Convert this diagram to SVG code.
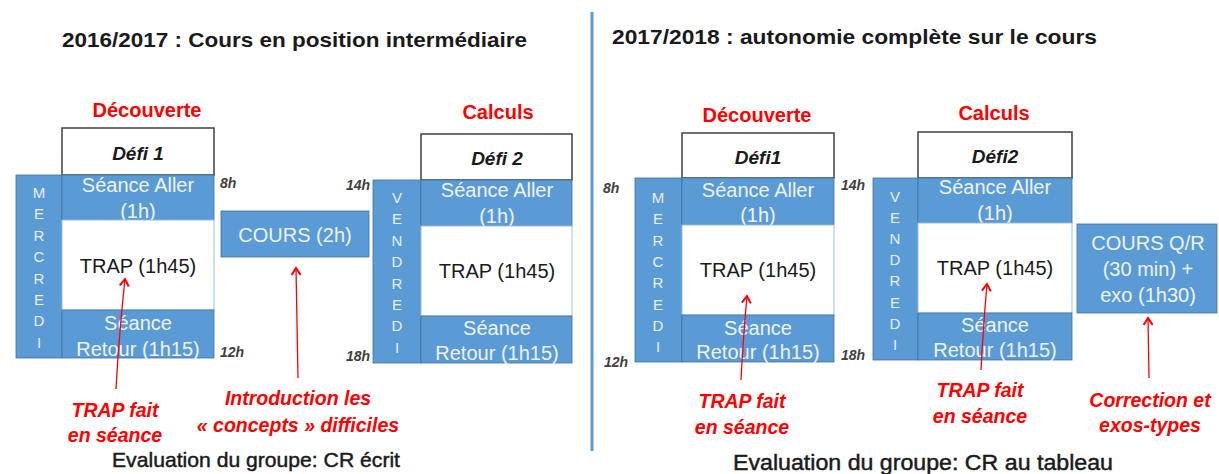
<svg xmlns="http://www.w3.org/2000/svg" width="1219" height="474" viewBox="0 0 1219 474">
<defs>
<style>
text{font-family:"Liberation Sans",Arial,sans-serif}
.blue{fill:#5b9bd5;stroke:#41719c;stroke-width:0.8}
.white{fill:#fff;stroke:#9dc3e6;stroke-width:1}
.defi{fill:#fff;stroke:#404040;stroke-width:1.5}
.wt{fill:#eef3fa;font-size:20px;text-anchor:middle}
.dt{fill:#1a1a1a;font-size:20px;text-anchor:middle}
.dfi{fill:#1a1a1a;font-size:19px;font-weight:bold;font-style:italic;text-anchor:middle}
.day{fill:#e8f0f9;font-size:15px;text-anchor:middle}
.hr{fill:#404040;font-size:14px;font-style:italic;font-weight:bold}
.red{fill:#ff0000;font-weight:bold;font-size:20px;text-anchor:middle}
.ann{fill:#ff0000;font-weight:bold;font-style:italic;font-size:19.5px;text-anchor:middle}
.title{fill:#1a1a1a;font-weight:bold;font-size:21px}
.eval{fill:#1a1a1a;stroke:#1a1a1a;stroke-width:0.45;font-size:21px;text-anchor:middle}
.arr{fill:none;stroke:#ff0000;stroke-width:1.3;marker-end:url(#head)}
</style>
<marker id="head" markerUnits="userSpaceOnUse" markerWidth="12" markerHeight="12" viewBox="0 0 12 12" refX="10" refY="6" orient="auto">
<path d="M3,1.5 L10,6 L3,10.5" fill="none" stroke="#ff0000" stroke-width="2"/>
</marker>
</defs>
<rect width="1219" height="474" fill="#fff"/>

<g id="titles">
<text class="title" x="62" y="47" textLength="465" lengthAdjust="spacingAndGlyphs">2016/2017 : Cours en position intermédiaire</text>
<text class="title" x="612" y="44" textLength="485" lengthAdjust="spacingAndGlyphs">2017/2018 : autonomie complète sur le cours</text>
</g>
<line id="divider" x1="592" y1="12" x2="592" y2="451" stroke="#5b9bd5" stroke-width="3"/>

<!-- LEFT -->
<g id="defi1-left">
<text class="red" x="147" y="117">Découverte</text>
<rect class="defi" x="62" y="128" width="152" height="47"/>
<text class="dfi" x="138" y="160">Défi 1</text>
</g>
<g id="mercredi-left">
<rect class="blue" x="16" y="175" width="46" height="183"/>
<text class="day"><tspan x="39" y="198">M</tspan><tspan x="39" y="219.4">E</tspan><tspan x="39" y="240.8">R</tspan><tspan x="39" y="262.2">C</tspan><tspan x="39" y="283.6">R</tspan><tspan x="39" y="305">E</tspan><tspan x="39" y="326.4">D</tspan><tspan x="39" y="347.8">I</tspan></text>
</g>
<g id="aller-left1">
<rect class="blue" x="62" y="175" width="152" height="45"/>
<text class="wt" x="138" y="192">Séance Aller</text>
<text class="wt" x="138" y="218">(1h)</text>
</g>
<g id="trap-left1">
<rect class="white" x="62" y="220" width="152" height="90"/>
<text class="dt" x="138" y="273">TRAP (1h45)</text>
</g>
<g id="retour-left1">
<rect class="blue" x="62" y="310" width="152" height="48"/>
<text class="wt" x="138" y="330">Séance</text>
<text class="wt" x="138" y="356">Retour (1h15)</text>
</g>
<g id="hours-left">
<text class="hr" x="220" y="188">8h</text>
<text class="hr" x="220" y="357">12h</text>
<text class="hr" x="370" y="190" text-anchor="end">14h</text>
<text class="hr" x="370" y="361" text-anchor="end">18h</text>
</g>
<g id="cours-left">
<rect class="blue" x="221" y="211" width="148" height="46"/>
<text class="wt" x="295" y="242">COURS (2h)</text>
</g>
<g id="defi2-left">
<text class="red" x="498" y="119">Calculs</text>
<rect class="defi" x="421" y="134" width="151" height="46"/>
<text class="dfi" x="497" y="165">Défi 2</text>
</g>
<g id="vendredi-left">
<rect class="blue" x="373" y="180" width="48" height="183"/>
<text class="day"><tspan x="397" y="203">V</tspan><tspan x="397" y="224.4">E</tspan><tspan x="397" y="245.8">N</tspan><tspan x="397" y="267.2">D</tspan><tspan x="397" y="288.6">R</tspan><tspan x="397" y="310">E</tspan><tspan x="397" y="331.4">D</tspan><tspan x="397" y="352.8">I</tspan></text>
</g>
<g id="aller-left2">
<rect class="blue" x="421" y="180" width="151" height="46"/>
<text class="wt" x="497" y="197">Séance Aller</text>
<text class="wt" x="497" y="223">(1h)</text>
</g>
<g id="trap-left2">
<rect class="white" x="421" y="226" width="151" height="90"/>
<text class="dt" x="497" y="278">TRAP (1h45)</text>
</g>
<g id="retour-left2">
<rect class="blue" x="421" y="316" width="151" height="47"/>
<text class="wt" x="497" y="335">Séance</text>
<text class="wt" x="497" y="360">Retour (1h15)</text>
</g>

<!-- RIGHT -->
<g id="defi1-right">
<text class="red" x="757" y="122">Découverte</text>
<rect class="defi" x="682" y="133" width="152" height="45"/>
<text class="dfi" x="758" y="164">Défi1</text>
</g>
<g id="mercredi-right">
<rect class="blue" x="635" y="178" width="47" height="184"/>
<text class="day"><tspan x="658" y="203">M</tspan><tspan x="658" y="224.3">E</tspan><tspan x="658" y="245.6">R</tspan><tspan x="658" y="266.9">C</tspan><tspan x="658" y="288.2">R</tspan><tspan x="658" y="309.5">E</tspan><tspan x="658" y="330.8">D</tspan><tspan x="658" y="352.1">I</tspan></text>
</g>
<g id="aller-right1">
<rect class="blue" x="682" y="178" width="152" height="47"/>
<text class="wt" x="758" y="197">Séance Aller</text>
<text class="wt" x="758" y="222">(1h)</text>
</g>
<g id="trap-right1">
<rect class="white" x="682" y="225" width="152" height="90"/>
<text class="dt" x="758" y="277">TRAP (1h45)</text>
</g>
<g id="retour-right1">
<rect class="blue" x="682" y="315" width="152" height="47"/>
<text class="wt" x="758" y="335">Séance</text>
<text class="wt" x="758" y="359">Retour (1h15)</text>
</g>
<g id="hours-right">
<text class="hr" x="603" y="193">8h</text>
<text class="hr" x="604" y="367">12h</text>
<text class="hr" x="841" y="190">14h</text>
<text class="hr" x="841" y="360">18h</text>
</g>
<g id="defi2-right">
<text class="red" x="994" y="120">Calculs</text>
<rect class="defi" x="918" y="132" width="154" height="46"/>
<text class="dfi" x="995" y="163">Défi2</text>
</g>
<g id="vendredi-right">
<rect class="blue" x="873" y="178" width="45" height="182"/>
<text class="day"><tspan x="895" y="202">V</tspan><tspan x="895" y="223.1">E</tspan><tspan x="895" y="244.2">N</tspan><tspan x="895" y="265.3">D</tspan><tspan x="895" y="286.4">R</tspan><tspan x="895" y="307.5">E</tspan><tspan x="895" y="328.6">D</tspan><tspan x="895" y="349.7">I</tspan></text>
</g>
<g id="aller-right2">
<rect class="blue" x="918" y="178" width="154" height="45"/>
<text class="wt" x="995" y="194">Séance Aller</text>
<text class="wt" x="995" y="220">(1h)</text>
</g>
<g id="trap-right2">
<rect class="white" x="918" y="223" width="154" height="90"/>
<text class="dt" x="995" y="275">TRAP (1h45)</text>
</g>
<g id="retour-right2">
<rect class="blue" x="918" y="313" width="154" height="47"/>
<text class="wt" x="995" y="332">Séance</text>
<text class="wt" x="995" y="357">Retour (1h15)</text>
</g>
<g id="cours-right">
<rect class="blue" x="1077" y="224" width="140" height="89"/>
<text class="wt" x="1148" y="250">COURS Q/R</text>
<text class="wt" x="1148" y="276">(30 min) +</text>
<text class="wt" x="1148" y="302">exo (1h30)</text>
</g>

<g id="connectors">
<path class="arr" d="M116,389 Q119,335 125,279"/>
<path class="arr" d="M298,378 L296,268"/>
<path class="arr" d="M741,380 Q743,340 747,296"/>
<path class="arr" d="M981,370 Q983,330 987,284"/>
<path class="arr" d="M1149,378 L1148,318"/>
</g>

<g id="annotations">
<text class="ann" x="115" y="417">TRAP fait</text>
<text class="ann" x="115" y="442">en séance</text>
<text class="ann" x="298" y="405">Introduction les</text>
<text class="ann" x="298" y="432">« concepts » difficiles</text>
<text class="ann" x="742" y="408">TRAP fait</text>
<text class="ann" x="742" y="434">en séance</text>
<text class="ann" x="980" y="397">TRAP fait</text>
<text class="ann" x="980" y="423">en séance</text>
<text class="ann" x="1150" y="407">Correction et</text>
<text class="ann" x="1150" y="432">exos-types</text>
</g>
<g id="evaluations">
<text class="eval" x="256" y="467" textLength="288" lengthAdjust="spacingAndGlyphs">Evaluation du groupe: CR écrit</text>
<text class="eval" x="923" y="470" style="font-size:22px" textLength="380" lengthAdjust="spacingAndGlyphs">Evaluation du groupe: CR au tableau</text>
</g>
</svg>
